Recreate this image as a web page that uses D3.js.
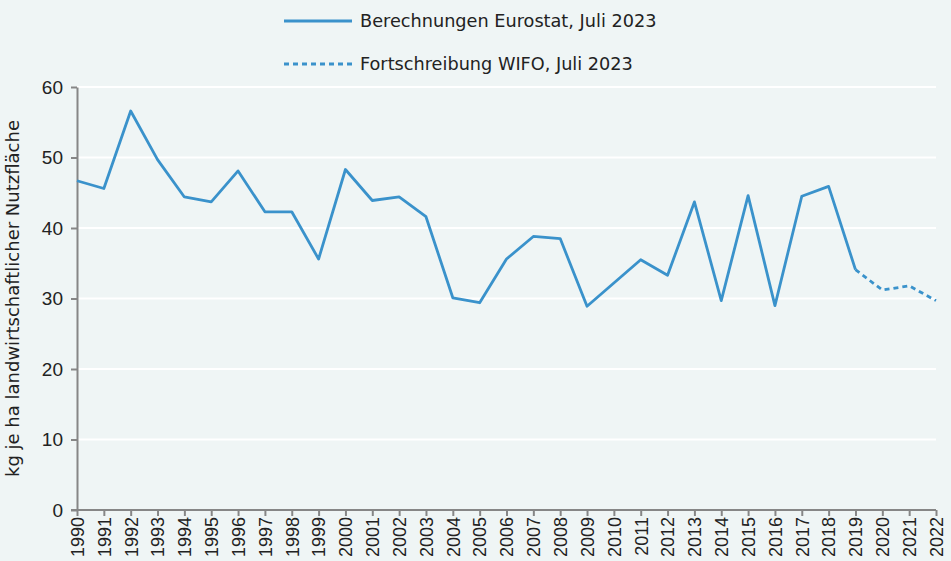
<!DOCTYPE html>
<html>
<head>
<meta charset="utf-8">
<script src="https://cdn.jsdelivr.net/npm/d3@7"></script>
<style>
body { margin: 0; background: #eff5f5; }
svg { font-family: "DejaVu Sans", sans-serif; }
.grid line { stroke: #ffffff; stroke-width: 2; }
.axis path, .axis line { stroke: #868686; stroke-width: 2; }
.axis text { fill: #222; }
</style>
</head>
<body>
<svg id="chart"></svg>
<script>
var years = d3.range(1990, 2023);

var eurostat = [46.7, 45.6, 56.6, 49.7, 44.4, 43.7, 48.1, 42.3, 42.3, 35.6,
    48.3, 43.9, 44.4, 41.6, 30.1, 29.4, 35.6, 38.8, 38.5, 28.9,
    32.2, 35.5, 33.3, 43.7, 29.7, 44.6, 29.0, 44.5, 45.9, 34.1];

var wifoYears = [2019, 2020, 2021, 2022];
var wifo = [34.1, 31.2, 31.8, 29.7];

var yTicks = [0, 10, 20, 30, 40, 50, 60];

var seriesNames = ["Berechnungen Eurostat, Juli 2023", "Fortschreibung WIFO, Juli 2023"];

var width = 951, height = 561;
var margin = {top: 87, right: 15, bottom: 51, left: 77};
var w = width - margin.left - margin.right;
var h = height - margin.top - margin.bottom;
var color = "#3a92cb";

var svg = d3.select('#chart')
    .attr('width', width)
    .attr('height', height)
    .append('g')
    .attr('transform', "translate(" + margin.left + "," + margin.top + ")");

var x = d3.scaleLinear().domain([1990, 2022]).range([0, 859]);
var y = d3.scaleLinear().domain([0, 60]).range([h, 0]);

// gridlines
svg.append("g")
    .attr("class", "grid")
    .selectAll("line")
    .data(yTicks.filter(d => d > 0))
    .enter().append("line")
    .attr("x1", 0)
    .attr("x2", x(2022))
    .attr("y1", d => y(d))
    .attr("y2", d => y(d));

var yAxis = svg.append("g")
    .attr("class", "axis")
    .call(d3.axisLeft(y).tickValues(yTicks).tickSize(6).tickSizeOuter(0).tickPadding(8));
yAxis.selectAll("text").style("font-size", "19px");

var xAxis = svg.append("g")
    .attr("class", "axis")
    .attr("transform", "translate(0," + h + ")")
    .call(d3.axisBottom(x).tickValues(years).tickFormat(d3.format("d")).tickSize(6).tickSizeOuter(0));
xAxis.select(".domain").attr("d", "M-6,0H" + x(2022));
xAxis.selectAll("text")
    .style("font-size", "18px")
    .attr("transform", "rotate(-90)")
    .attr("text-anchor", "end")
    .attr("x", -7)
    .attr("y", 0)
    .attr("dy", "0.35em");

svg.append("text")
    .attr("transform", "rotate(-90)")
    .attr("x", -(y(0) + y(60)) / 2 + 0)
    .attr("y", -58)
    .attr("text-anchor", "middle")
    .style("font-size", "18px")
    .attr("fill", "#222")
    .text("kg je ha landwirtschaftlicher Nutzfläche");

var line = d3.line()
    .x(d => x(d[0]))
    .y(d => y(d[1]));

svg.append("path")
    .datum(eurostat.map((v, i) => [years[i], v]))
    .attr("fill", "none")
    .attr("stroke", color)
    .attr("stroke-width", 2.8)
    .attr("stroke-linejoin", "round")
    .attr("d", line);

svg.append("path")
    .datum(wifo.map((v, i) => [wifoYears[i], v]))
    .attr("fill", "none")
    .attr("stroke", color)
    .attr("stroke-width", 2.8)
    .attr("stroke-dasharray", "5,4")
    .attr("d", line);

// legend
var legend = d3.select('#chart').append("g");
seriesNames.forEach(function(name, i) {
    var ly = 21 + i * 43;
    legend.append("line")
        .attr("x1", 284).attr("x2", 352)
        .attr("y1", ly).attr("y2", ly)
        .attr("stroke", color)
        .attr("stroke-width", 2.8)
        .attr("stroke-dasharray", i == 1 ? "5,4" : null);
    legend.append("text")
        .attr("x", 360)
        .attr("y", ly)
        .attr("dy", "0.35em")
        .style("font-size", "17.7px")
        .attr("fill", "#222")
        .text(name);
});
</script>
</body>
</html>
